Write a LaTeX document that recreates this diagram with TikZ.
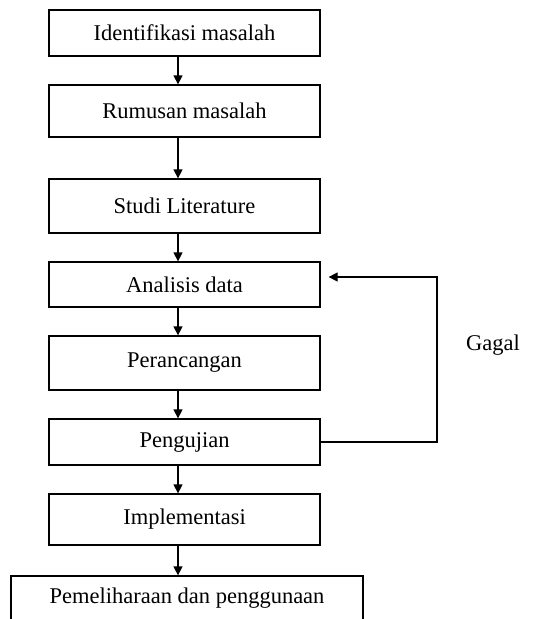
\documentclass[tikz,border=0pt]{standalone}
\usepackage{fontspec}
\setmainfont{Liberation Serif}
\usetikzlibrary{arrows.meta}
\begin{document}
\begin{tikzpicture}[x=1pt,y=-1pt,every node/.style={black},
  tahap/.style={draw,line width=1.3pt,minimum width=271pt,minimum height=#1,inner sep=0pt,font=\fontsize{22.5}{25}\selectfont},
  panah/.style={-{Triangle[length=9pt,width=9pt]},line width=1.3pt}]
\useasboundingbox (0,0) rectangle (544,619);
\clip (0,0) rectangle (544,619);

\node[tahap=46pt] (idn) at (184.5, 33) {Identifikasi masalah};
\node[tahap=52pt] (rms) at (184.5,111) {Rumusan masalah};
\node[tahap=54pt] (stu) at (184.5,206) {Studi Literature};
\node[tahap=45pt] (ana) at (184.5,284.5) {Analisis data};
\node[tahap=54pt] (ran) at (184.5,363) {Perancangan};
\node[tahap=46pt] (uji) at (184.5,442) {Pengujian};
\node[tahap=51pt] (imp) at (184.5,519.5) {Implementasi};
\node[tahap=44pt,minimum width=352pt] (pel) at (187,598) {Pemeliharaan dan penggunaan};
\node[font=\fontsize{22.5}{25}\selectfont] (ggl) at (493,345) {Gagal};

\draw[panah] ([xshift=-6.5pt]idn.south) -- ([xshift=-6.5pt]rms.north);
\draw[panah] ([xshift=-6.5pt]rms.south) -- ([xshift=-6.5pt]stu.north);
\draw[panah] ([xshift=-6.5pt]stu.south) -- ([xshift=-6.5pt]ana.north);
\draw[panah] ([xshift=-6.5pt]ana.south) -- ([xshift=-6.5pt]ran.north);
\draw[panah] ([xshift=-6.5pt]ran.south) -- ([xshift=-6.5pt]uji.north);
\draw[panah] ([xshift=-6.5pt]uji.south) -- ([xshift=-6.5pt]imp.north);
\draw[panah] ([xshift=-6.5pt]imp.south) -- ([xshift=-9pt]pel.north);

\coordinate (balik) at (437,442);
\draw[panah] (uji.east) -- (balik) |- ([xshift=8pt,yshift=7.5pt]ana.east);

\end{tikzpicture}
\end{document}
